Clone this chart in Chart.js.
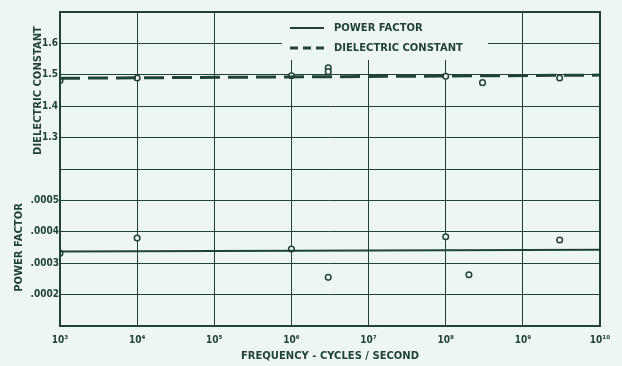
<!DOCTYPE html>
<html>
<head>
<meta charset="utf-8">
<script src="https://cdn.jsdelivr.net/npm/chart.js@4.4.0/dist/chart.umd.min.js"></script>
<style>
  html, body { margin: 0; padding: 0; background: #eef6f3; }
  #wrap { width: 622px; height: 366px; }
</style>
</head>
<body>
<div id="wrap"><canvas id="dielectricChart" width="622" height="366"></canvas></div>
<script>
// ── Data ────────────────────────────────────────────────────────────────
const xTicks = [1e3, 1e4, 1e5, 1e6, 1e7, 1e8, 1e9, 1e10];

const dcPointFreq = [1e3, 1e4, 1e6, 3e6, 3e6, 1e8, 3e8, 3e9];
const dcPointVals = [1.482, 1.49, 1.497, 1.522, 1.51, 1.495, 1.475, 1.49];
const dcFitFreq = [1e3, 1e10];
const dcFitVals = [1.489, 1.499];

const pfPointFreq = [1e3, 1e4, 1e6, 3e6, 1e8, 2e8, 3e9];
const pfPointVals = [0.000332, 0.00038, 0.000345, 0.000255, 0.000384, 0.000263, 0.000374];
const pfFitFreq = [1e3, 1e10];
const pfFitVals = [0.000337, 0.000343];

const INK = '#1f4436';
const PAPER = '#eef6f3';
const FONT = 'DejaVu Sans, sans-serif';
const SUP = { '0': '⁰', '1': '¹', '2': '²', '3': '³', '4': '⁴', '5': '⁵', '6': '⁶', '7': '⁷', '8': '⁸', '9': '⁹' };

const pairs = (xs, ys) => xs.map((x, i) => ({ x: x, y: ys[i] }));

// ── Legend drawn inside the plot, with paper behind it ───────────────────
const insideLegend = {
    id: 'insideLegend',
    afterDatasetsDraw(chart) {
        const { ctx, chartArea } = chart;
        const x0 = chartArea.left + 222;
        const y0 = chartArea.top;
        ctx.save();
        ctx.fillStyle = PAPER;
        ctx.fillRect(x0, y0 + 1, 206, 47);
        [0, 1].forEach((idx, row) => {
            const ds = chart.data.datasets[idx];
            const y = y0 + 16 + row * 20;
            ctx.strokeStyle = INK;
            ctx.lineWidth = ds.borderWidth;
            ctx.setLineDash(ds.borderDash ? [8, 5] : []);
            ctx.beginPath();
            ctx.moveTo(x0 + 8, y);
            ctx.lineTo(x0 + 42, y);
            ctx.stroke();
            ctx.setLineDash([]);
            ctx.fillStyle = INK;
            ctx.font = 'bold 10px ' + FONT;
            ctx.textBaseline = 'middle';
            ctx.fillText(ds.label, x0 + 52, y);
        });
        ctx.restore();
    },
    afterDraw(chart) {
        const { ctx, chartArea } = chart;
        ctx.save();
        ctx.strokeStyle = INK;
        ctx.lineWidth = 2;
        ctx.strokeRect(chartArea.left, chartArea.top, chartArea.right - chartArea.left, chartArea.bottom - chartArea.top);
        ctx.restore();
    }
};

const tickFont = { family: 'DejaVu Sans Condensed, ' + FONT, size: 10, weight: 'bold' };
const titleFont = { family: FONT, size: 10, weight: 'bold' };

new Chart(document.getElementById('dielectricChart'), {
    type: 'scatter',
    data: {
        datasets: [
            {
                label: 'POWER FACTOR',
                data: pairs(pfFitFreq, pfFitVals),
                yAxisID: 'yPF',
                showLine: true,
                borderColor: INK,
                borderWidth: 2,
                pointRadius: 0
            },
            {
                label: 'DIELECTRIC CONSTANT',
                data: pairs(dcFitFreq, dcFitVals),
                yAxisID: 'yDC',
                showLine: true,
                borderColor: INK,
                borderWidth: 3,
                borderDash: [20, 8],
                pointRadius: 0
            },
            {
                label: 'dc points',
                data: pairs(dcPointFreq, dcPointVals),
                yAxisID: 'yDC',
                pointRadius: 2.8,
                pointBorderWidth: 1.5,
                pointBorderColor: INK,
                pointBackgroundColor: PAPER
            },
            {
                label: 'pf points',
                data: pairs(pfPointFreq, pfPointVals),
                yAxisID: 'yPF',
                pointRadius: 2.8,
                pointBorderWidth: 1.5,
                pointBorderColor: INK,
                pointBackgroundColor: PAPER
            }
        ]
    },
    options: {
        responsive: false,
        animation: false,
        layout: { padding: { left: 0, right: 22, top: 12, bottom: 0 } },
        plugins: {
            legend: { display: false },
            tooltip: { enabled: false }
        },
        scales: {
            x: {
                type: 'logarithmic',
                min: 1e3,
                max: 1e10,
                afterBuildTicks: scale => { scale.ticks = xTicks.map(v => ({ value: v })); },
                afterFit: scale => { scale.height = 40; },
                grid: { color: INK, lineWidth: 1, drawTicks: false },
                border: { color: INK, width: 2 },
                ticks: {
                    color: INK,
                    font: tickFont,
                    padding: 8,
                    maxRotation: 0,
                    autoSkip: false,
                    callback: value => '10' + String(Math.round(Math.log10(value))).split('').map(d => SUP[d]).join('')
                },
                title: {
                    display: true,
                    text: 'FREQUENCY - CYCLES / SECOND',
                    color: INK,
                    font: titleFont,
                    padding: { top: 2, bottom: 4 }
                }
            },
            yPF: {
                type: 'linear',
                position: 'left',
                stack: 'y',
                stackWeight: 1,
                min: 0.0001,
                max: 0.0006,
                afterFit: scale => { scale.width = 60; },
                grid: { color: INK, lineWidth: 1, drawTicks: false },
                border: { color: INK, width: 2 },
                ticks: {
                    stepSize: 0.0001,
                    color: INK,
                    font: tickFont,
                    padding: 1,
                    callback: v => {
                        const k = Math.round(v * 1e4);
                        return (k === 1 || k === 6) ? '' : (k / 1e4).toFixed(4).replace(/^0/, '');
                    }
                },
                title: {
                    display: true,
                    text: 'POWER FACTOR',
                    color: INK,
                    font: titleFont,
                    padding: { top: 13, bottom: 0 }
                }
            },
            yDC: {
                type: 'linear',
                position: 'left',
                stack: 'y',
                stackWeight: 1,
                min: 1.2,
                max: 1.7,
                afterFit: scale => { scale.width = 60; },
                grid: { color: INK, lineWidth: 1, drawTicks: false },
                border: { color: INK, width: 2 },
                ticks: {
                    stepSize: 0.1,
                    color: INK,
                    font: tickFont,
                    padding: 2,
                    callback: v => {
                        const k = Math.round(v * 10);
                        return (k === 12 || k === 17) ? '' : (k / 10).toFixed(1);
                    }
                },
                title: {
                    display: true,
                    text: 'DIELECTRIC CONSTANT',
                    color: INK,
                    font: titleFont,
                    padding: { top: 32, bottom: 0 }
                }
            }
        }
    },
    plugins: [insideLegend]
});
</script>
</body>
</html>
